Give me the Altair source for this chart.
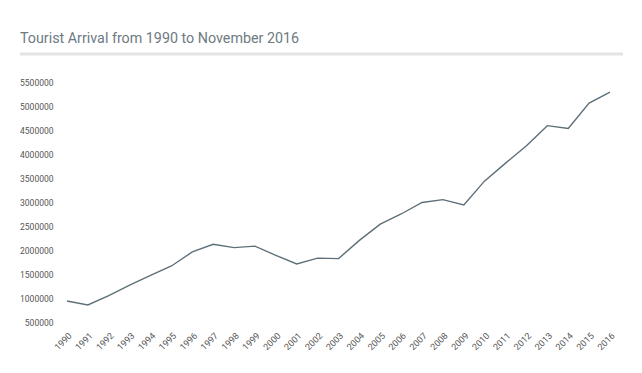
import altair as alt
import pandas as pd

years = [str(y) for y in range(1990, 2017)]
arrivals = [937000, 854000, 1050000, 1270000, 1470000, 1667000, 1960000, 2120000,
            2050000, 2080000, 1890000, 1710000, 1830000, 1820000, 2200000, 2540000,
            2750000, 2990000, 3050000, 2940000, 3440000, 3810000, 4170000, 4590000,
            4530000, 5060000, 5290000]
y_ticks = list(range(500000, 5500001, 500000))
title_text = "Tourist Arrival from 1990 to November 2016"

df = pd.DataFrame({"year": years, "arrivals": arrivals})
dummy = pd.DataFrame({"k": [0]})

W, H = 543, 240
PL, PT = 59, 74

line = alt.Chart(df).mark_line(color="#5e6f79", strokeWidth=1.4).encode(
    x=alt.X("year:O", sort=years,
            scale=alt.Scale(type="point", padding=0),
            axis=alt.Axis(title=None, labelAngle=-45, labelFont="Roboto",
                          labelFontSize=9, labelColor="#555555", ticks=False,
                          domain=False, labelPadding=9)),
    y=alt.Y("arrivals:Q", scale=alt.Scale(domain=[500000, 5500000], nice=False, zero=False),
            axis=alt.Axis(title=None, values=y_ticks, format="d", grid=False,
                          domain=False, ticks=False, labelFont="Roboto",
                          labelFontSize=8.5, labelColor="#555555", labelPadding=14)),
)

sep = alt.Chart(dummy).mark_rule(color="#e3e3e3", strokeWidth=3).encode(
    x=alt.value(20 - 8 - PL), x2=alt.value(623 - 8 - PL), y=alt.value(54 - 8 - PT)
)

title = alt.Chart(dummy).mark_text(
    align="left", baseline="alphabetic", font="Roboto", fontSize=14.3,
    fontWeight=400, color="#6e7a82"
).encode(x=alt.value(20 - 8 - PL), y=alt.value(43 - 8 - PT), text=alt.value(title_text))

chart = alt.layer(sep, title, line).properties(
    width=W, height=H,
    autosize=alt.AutoSizeParams(type="none"),
    padding={"left": PL, "top": PT, "right": 642 - 16 - PL - W, "bottom": 373 - 16 - PT - H},
).configure_view(stroke=None)

chart.save("out.html", embed_options={"renderer": "svg", "actions": False})
